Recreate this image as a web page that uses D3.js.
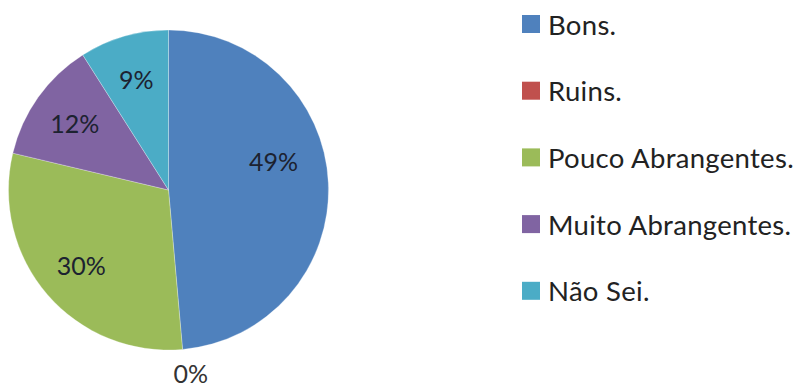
<!DOCTYPE html>
<html>
<head>
<meta charset="utf-8">
<script src="https://cdn.jsdelivr.net/npm/d3@7/dist/d3.min.js"></script>
<style>
  html, body { margin: 0; padding: 0; background: #ffffff; }
  svg { display: block; }
</style>
</head>
<body>
<svg id="chart" width="800" height="389"></svg>
<script>
// ---- data ----
const categories = ["Bons.", "Ruins.", "Pouco Abrangentes.", "Muito Abrangentes.", "Não Sei."];
const values = [48.6, 0, 30.1, 12.3, 9.0];
const colors = ["#4F81BD", "#C0504D", "#9BBB59", "#8064A2", "#4BACC6"];

// ---- layout ----
const W = 800, H = 389;
const cx = 168.5, cy = 190, R = 160;
const FONT = "Lato, 'Open Sans', sans-serif";

const svg = d3.select("#chart");
const data = categories.map((c, i) => ({ name: c, value: values[i], color: colors[i] }));
const total = d3.sum(values);

const pie = d3.pie().value(d => d.value).sort(null);
const arcs = pie(data);
const arc = d3.arc().innerRadius(0).outerRadius(R);
const labelArc = d3.arc().innerRadius(R * 0.72).outerRadius(R * 0.72);
const outerLabelArc = d3.arc().innerRadius(R * 1.15).outerRadius(R * 1.15);

const g = svg.append("g").attr("transform", `translate(${cx},${cy})`);

g.selectAll("path.slice")
  .data(arcs)
  .enter().append("path")
  .attr("class", "slice")
  .attr("d", arc)
  .attr("fill", d => d.data.color)
  .attr("stroke", d => d.data.value > 0 ? "rgba(255,255,255,0.35)" : "none")
  .attr("stroke-width", 0.8);

// best-fit style nudges for slice labels (layout only)
const nudge = { "Bons.": [-10, -24], "Ruins.": [6, 0] };

g.selectAll("text.lbl")
  .data(arcs)
  .enter().append("text")
  .attr("class", "lbl")
  .attr("transform", d => {
    const p = d.data.value > 0 ? labelArc.centroid(d) : outerLabelArc.centroid(d);
    const n = nudge[d.data.name] || [0, 0];
    return `translate(${p[0] + n[0]},${p[1] + n[1]})`;
  })
  .attr("text-anchor", "middle")
  .attr("dominant-baseline", "central")
  .attr("font-family", FONT)
  .attr("font-size", 25)
  .attr("fill", d => d.data.value > 0 ? "#1c2230" : "#333")
  .text(d => Math.round(d.data.value / total * 100) + "%");

// ---- legend ----
const legend = svg.append("g").attr("transform", "translate(522,24)");
const rowStep = 66.7;
const items = legend.selectAll("g.item")
  .data(data)
  .enter().append("g")
  .attr("class", "item")
  .attr("transform", (d, i) => `translate(0,${i * rowStep})`);

items.append("rect")
  .attr("x", 0).attr("y", -9)
  .attr("width", 18).attr("height", 18)
  .attr("fill", d => d.color);

items.append("text")
  .attr("x", 26).attr("y", 0)
  .attr("dominant-baseline", "central")
  .attr("font-family", FONT)
  .attr("font-size", 27.5)
  .attr("letter-spacing", 0.3)
  .attr("fill", "#222")
  .text(d => d.name);
</script>
</body>
</html>
